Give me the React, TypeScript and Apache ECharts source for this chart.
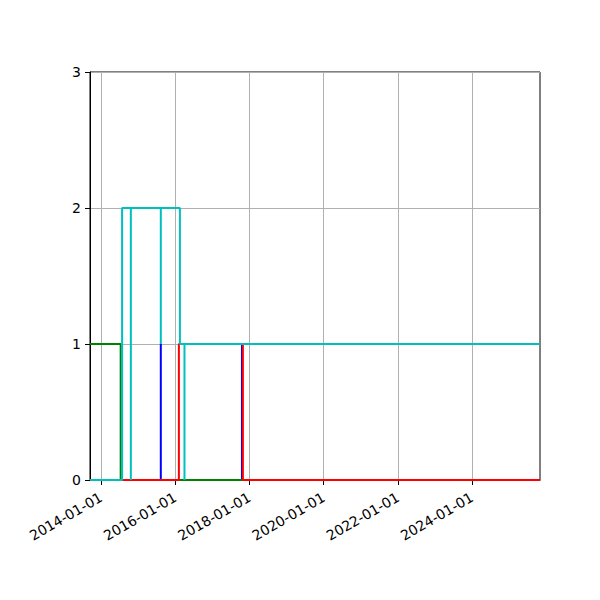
import * as echarts from "echarts";
import { useEffect, useRef } from "react";

// step rows (drawn steps-post); a repeated date makes a zero-width spike
const xStart = "2013-09-14";
const xEnd = "2025-10-31";

const blueSteps: [string, number][] = [
  [xStart, 0],
  ["2015-08-12", 0],
  ["2015-08-12", 1],
  ["2015-08-12", 0],
  ["2017-10-19", 0],
  ["2017-10-19", 1],
  ["2017-10-19", 0],
  [xEnd, 0]
];

const greenSteps: [string, number][] = [
  [xStart, 1],
  ["2014-07-13", 0],
  [xEnd, 0]
];

const redSteps: [string, number][] = [
  [xStart, 0],
  ["2016-02-06", 1],
  ["2017-10-28", 0],
  [xEnd, 0]
];

const cyanSteps: [string, number][] = [
  [xStart, 0],
  ["2014-07-27", 2],
  ["2014-10-21", 0],
  ["2014-10-21", 2],
  ["2015-08-12", 1],
  ["2015-08-12", 2],
  ["2016-02-16", 1],
  ["2016-04-01", 0],
  ["2016-04-01", 1],
  [xEnd, 1]
];

const xTicks = ["2014-01-01", "2016-01-01", "2018-01-01", "2020-01-01", "2022-01-01", "2024-01-01"];
const yTicks = [0, 1, 2, 3];

const seriesDefs = [
  { name: "b", color: "#0000ff", rows: blueSteps },
  { name: "g", color: "#008000", rows: greenSteps },
  { name: "r", color: "#ff0000", rows: redSteps },
  { name: "c", color: "#00bfbf", rows: cyanSteps }
];

const font = "DejaVu Sans";
const toTime = (d: string) => Date.parse(d);

export default function App() {
  const ref = useRef<HTMLDivElement | null>(null);

  useEffect(() => {
    if (!ref.current) {
      return;
    }
    const chart = echarts.init(ref.current, undefined, { renderer: "svg" });
    const tickValues = xTicks.map(toTime);
    chart.setOption({
      animation: false,
      backgroundColor: "#ffffff",
      grid: {
        left: 90,
        right: 60,
        top: 72,
        bottom: 120,
        show: true,
        borderColor: "#000000",
        borderWidth: 1,
        backgroundColor: "transparent"
      },
      xAxis: {
        type: "value",
        min: toTime(xStart),
        max: toTime(xEnd),
        axisLine: { show: true, onZero: false, lineStyle: { color: "#000000", width: 1 } },
        axisTick: { show: true, length: 5, customValues: tickValues, lineStyle: { color: "#000000" } },
        axisLabel: {
          customValues: tickValues,
          rotate: 30,
          margin: 16,
          color: "#000000",
          fontFamily: font,
          fontSize: 14,
          formatter: (v: number) => new Date(v).toISOString().slice(0, 10)
        },
        splitLine: { show: true, lineStyle: { color: "#b0b0b0", width: 1 } }
      },
      yAxis: {
        type: "value",
        min: yTicks[0],
        max: yTicks[yTicks.length - 1],
        interval: 1,
        axisLine: { show: true, onZero: false, lineStyle: { color: "#000000", width: 1 } },
        axisTick: { show: true, length: 5, lineStyle: { color: "#000000" } },
        axisLabel: { margin: 9, color: "#000000", fontFamily: font, fontSize: 14 },
        splitLine: { show: true, lineStyle: { color: "#b0b0b0", width: 1 } }
      },
      series: seriesDefs.map((s) => ({
        type: "line",
        name: s.name,
        step: "end",
        showSymbol: false,
        symbol: "none",
        data: s.rows.map(([d, v]) => [toTime(d), v]),
        lineStyle: { color: s.color, width: 2 },
        itemStyle: { color: s.color }
      }))
    });
    return () => {
      chart.dispose();
    };
  }, []);

  return (
    <div
      ref={ref}
      style={{ position: "fixed", left: 0, top: 0, width: 600, height: 600, background: "#ffffff" }}
    />
  );
}
